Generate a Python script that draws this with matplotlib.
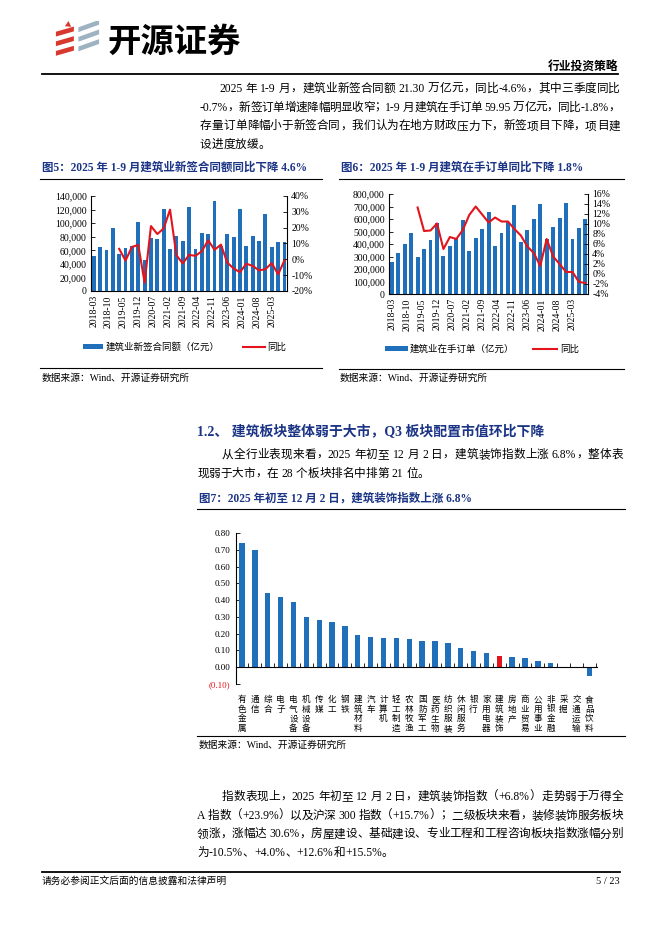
import re
import matplotlib
matplotlib.use('Agg')
import matplotlib.pyplot as plt
from matplotlib.patches import Rectangle, Polygon
from matplotlib.lines import Line2D
from matplotlib.ticker import FuncFormatter, MultipleLocator

W, H = 662, 936
SERIF = ['Liberation Serif', 'Noto Sans CJK SC']
SANS = ['Noto Sans CJK SC', 'DejaVu Sans']
NAVY = '#1b3486'
BLUE = '#1f6fba'
RED = '#e3141c'

# ---- data ----
quarters = ['2018-03', '2018-06', '2018-09', '2018-12',
            '2019-03', '2019-06', '2019-09', '2019-12',
            '2020-03', '2020-06', '2020-09', '2020-12',
            '2021-03', '2021-06', '2021-09', '2021-12',
            '2022-03', '2022-06', '2022-09', '2022-12',
            '2023-03', '2023-06', '2023-09', '2023-12',
            '2024-03', '2024-06', '2024-09', '2024-12',
            '2025-03', '2025-06', '2025-09']
date_ticks = ['2018-03', '2018-10', '2019-05', '2019-12', '2020-07', '2021-02',
              '2021-09', '2022-04', '2022-11', '2023-06', '2024-01', '2024-08', '2025-03']

# 建筑业新签合同额（亿元，单季）
new_contract = [52000, 65000, 61000, 93000,
                54000, 64000, 66000, 101000,
                46000, 78000, 77000, 121000,
                62000, 81000, 74000, 124000,
                62000, 85000, 84000, 132000,
                67000, 84000, 79000, 121000,
                66000, 81000, 73000, 113000,
                65000, 72000, 72000]
# 同比（%），自 2019-03 起
new_yoy = [6.6, -0.8, 7.8, 9.1, -14.7, 21.0, 16.0, 19.5, 31.4, 2.6, -2.6, 2.8,
           2.2, 5.1, 12.0, 6.0, 9.3, -2.0, -5.8, -8.1, -2.8, -4.1, -7.0, -6.2,
           -2.4, -9.5, -0.7]

# 建筑业在手订单（亿元）
backlog = [260000, 332000, 401000, 491000,
           295000, 364000, 433000, 566000,
           308000, 388000, 446000, 595000,
           345000, 446000, 523000, 656000,
           385000, 489000, 575000, 715000,
           415000, 515000, 600000, 723000,
           442000, 534000, 611000, 726000,
           444000, 526000, 599500]
backlog_yoy = [13.3, 8.6, 8.7, 10.1, 5.0, 7.4, 7.0, 8.8, 11.8, 13.5, 11.9, 10.3,
               11.3, 10.5, 10.5, 9.0, 7.7, 5.5, 4.2, 1.6, 7.0, 3.5, 2.0, 0.4,
               0.4, -1.6, -1.8]

sectors = ['有色金属', '通信', '综合', '电子', '电气设备', '机械设备', '传媒', '化工',
           '钢铁', '建筑材料', '汽车', '计算机', '轻工制造', '农林牧渔', '国防军工',
           '医药生物', '纺织服装', '休闲服务', '银行', '家用电器', '建筑装饰', '房地产',
           '商业贸易', '公用事业', '非银金融', '采掘', '交通运输', '食品饮料']
sector_ret = [0.738, 0.699, 0.441, 0.417, 0.391, 0.302, 0.284, 0.272, 0.244, 0.193,
              0.183, 0.177, 0.173, 0.171, 0.159, 0.157, 0.143, 0.113, 0.099, 0.087,
              0.068, 0.062, 0.054, 0.040, 0.028, 0.000, 0.004, -0.050]

para1 = ['2025 年 1-9 月，建筑业新签合同额 21.30 万亿元，同比-4.6%，其中三季度同比',
         '-0.7%，新签订单增速降幅明显收窄；1-9 月建筑在手订单 59.95 万亿元，同比-1.8%，',
         '存量订单降幅小于新签合同，我们认为在地方财政压力下，新签项目下降，项目建',
         '设进度放缓。']
para2 = ['从全行业表现来看，2025 年初至 12 月 2 日，建筑装饰指数上涨 6.8%，整体表',
         '现弱于大市，在 28 个板块排名中排第 21 位。']
para3 = ['指数表现上，2025 年初至 12 月 2 日，建筑装饰指数（+6.8%）走势弱于万得全',
         'A 指数（+23.9%）以及沪深 300 指数（+15.7%）；二级板块来看，装修装饰服务板块',
         '领涨，涨幅达 30.6%，房屋建设、基础建设、专业工程和工程咨询板块指数涨幅分别',
         '为-10.5%、+4.0%、+12.6%和+15.5%。']

# ---- figure ----
fig = plt.figure(figsize=(W / 100, H / 100), dpi=100)
renderer = fig.canvas.get_renderer()


def fx(x):
    return x / W


def fy(y):
    return 1 - y / H


def txt(x, y, s, size, family=SERIF, **kw):
    kw.setdefault('va', 'center')
    return fig.text(fx(x), fy(y), s, fontsize=size, family=family, **kw)


def hline(x0, x1, y, lw=1.0, color='black'):
    fig.add_artist(Line2D([fx(x0), fx(x1)], [fy(y), fy(y)], lw=lw, color=color,
                          transform=fig.transFigure))


def frect(x0, y0, x1, y1, color):
    fig.add_artist(Rectangle((fx(x0), fy(y1)), fx(x1) - fx(x0), fy(y0) - fy(y1),
                             color=color, transform=fig.transFigure, lw=0))


def add_ax(x0, y0, x1, y1):
    return fig.add_axes([fx(x0), fy(y1), fx(x1) - fx(x0), fy(y0) - fy(y1)])


def text_line(x0, x1, y, s, size, justify=True, color='black'):
    toks = re.findall(r'[0-9A-Za-z.%+\-/]+| |.', s)
    widths = []
    for t in toks:
        if t == ' ':
            widths.append(size * 0.25 * 100 / 72)
            continue
        tmp = fig.text(0, 0, t, fontsize=size, family=SERIF)
        widths.append(tmp.get_window_extent(renderer).width)
        tmp.remove()
    gap = 0
    if justify and len(toks) > 1:
        gap = (x1 - x0 - sum(widths)) / (len(toks) - 1)
    x = x0
    for t, w in zip(toks, widths):
        if t != ' ':
            txt(x, y, t, size, ha='left', color=color)
        x += w + gap


def paragraph(lines, y0, step, x_left=200, x_indent=219, x_right=620, size=8.4):
    for i, s in enumerate(lines):
        x0 = x_indent if i == 0 else x_left
        text_line(x0, x_right, y0 + i * step, s, size, justify=(i < len(lines) - 1))


# ---- header ----
logo = add_ax(55, 21, 100, 58)
logo.set_xlim(0, 1)
logo.set_ylim(0, 1)
logo.axis('off')
for k in range(3):
    yb = 0.06 + k * 0.26
    logo.add_patch(Polygon([(0.02, yb), (0.42, yb + 0.14), (0.42, yb + 0.27), (0.02, yb + 0.13)],
                           closed=True, color='#d8392f', lw=0))
    logo.add_patch(Polygon([(0.52, yb + 0.12), (0.98, yb + 0.32), (0.98, yb + 0.45), (0.52, yb + 0.25)],
                           closed=True, color='#9db3c2', lw=0))
logo.add_patch(Polygon([(0.22, 0.86), (0.3, 1.0), (0.36, 0.84)], closed=True, color='#d8392f', lw=0))
txt(108, 42, '开源证券', 24, family=SANS, weight='bold', ha='left')
txt(618, 66, '行业投资策略', 8.5, family=SANS, weight='bold', ha='right')
hline(42, 618, 73.5, lw=1.3)

paragraph(para1, 89, 18.7)

# ---- figure titles ----
txt(42, 168, '图5：2025 年 1-9 月建筑业新签合同额同比下降 4.6%', 8.3, weight='bold', color=NAVY, ha='left')
txt(341, 168, '图6：2025 年 1-9 月建筑在手订单同比下降 1.8%', 8.3, weight='bold', color=NAVY, ha='left')
hline(40, 322, 179, lw=0.8)
hline(339, 624, 179, lw=0.8)

months = [(int(q[:4]) - 2018) * 12 + int(q[5:]) - 3 for q in quarters]
tick_pos = [(int(q[:4]) - 2018) * 12 + int(q[5:]) - 3 for q in date_ticks]


def combo(box, bars, yoy, ymax, ystep, rlim, rstep):
    ax = add_ax(*box)
    ax.bar(months, bars, width=1.8, color=BLUE, zorder=2)
    ax.set_xlim(-1.3, 91.2)
    ax.set_ylim(0, ymax)
    ax.yaxis.set_major_locator(MultipleLocator(ystep))
    ax.yaxis.set_major_formatter(FuncFormatter(lambda v, p: f'{v:,.0f}'))
    ax.set_xticks(tick_pos)
    ax.set_xticklabels(date_ticks, rotation=90, family=SERIF, fontsize=7)
    ax.tick_params(axis='x', length=0, pad=3)
    ax.tick_params(axis='y', direction='in', length=3, width=0.6, labelsize=7, pad=3)
    for lab in ax.get_yticklabels():
        lab.set_family(SERIF)
    for sp in ['top', 'right']:
        ax.spines[sp].set_visible(False)
    ax2 = ax.twinx()
    ax2.plot(months[4:], yoy, color=RED, lw=1.5, zorder=3)
    ax2.set_ylim(*rlim)
    ax2.yaxis.set_major_locator(MultipleLocator(rstep))
    ax2.yaxis.set_major_formatter(FuncFormatter(lambda v, p: f'{v:.0f}%'))
    ax2.tick_params(axis='y', direction='in', length=3, width=0.6, labelsize=7, pad=3)
    for lab in ax2.get_yticklabels():
        lab.set_family(SERIF)
    for sp in ['top', 'left', 'bottom']:
        ax2.spines[sp].set_visible(False)
    for a in (ax, ax2):
        for sp in a.spines.values():
            sp.set_linewidth(0.8)
    return ax


combo((91, 196, 287, 291), new_contract, new_yoy, 140000, 20000, (-20, 40), 10)
combo((389, 194, 588, 294), backlog, backlog_yoy, 800000, 100000, (-4, 16), 2)

# legends
frect(83, 344, 103, 349, BLUE)
txt(106, 347, '建筑业新签合同额（亿元）', 6.8, ha='left')
hline(243, 265, 347, lw=1.5, color=RED)
txt(267, 347, '同比', 6.8, ha='left')
frect(385, 346, 408, 351, BLUE)
txt(410, 349, '建筑业在手订单（亿元）', 6.8, ha='left')
hline(533, 557, 349, lw=1.5, color=RED)
txt(560, 349, '同比', 6.8, ha='left')

hline(40, 322, 368.5, lw=0.8)
hline(339, 624, 369.5, lw=0.8)
txt(42, 378, '数据来源：Wind、开源证券研究所', 7, ha='left')
txt(340, 378, '数据来源：Wind、开源证券研究所', 7, ha='left')

# ---- section 1.2 ----
txt(197, 431, '1.2、 建筑板块整体弱于大市，Q3 板块配置市值环比下降', 10, weight='bold', color=NAVY, ha='left')
paragraph(para2, 455, 18.7, x_left=197, x_indent=222, x_right=623)
txt(199, 499, '图7：2025 年初至 12 月 2 日，建筑装饰指数上涨 6.8%', 8.3, weight='bold', color=NAVY, ha='left')
hline(197, 625, 509, lw=0.8)

ax7 = add_ax(236, 533, 597, 684)
colors = [RED if s == '建筑装饰' else BLUE for s in sectors]
ax7.bar(range(len(sectors)), sector_ret, width=0.42, color=colors, zorder=2)
ax7.set_xlim(-0.47, 27.6)
ax7.set_ylim(-0.10, 0.80)
ax7.yaxis.set_major_locator(MultipleLocator(0.10))
ax7.yaxis.set_major_formatter(FuncFormatter(lambda v, p: f'({abs(v):.2f})' if v < -1e-9 else f'{v:.2f}'))
ax7.tick_params(axis='y', direction='in', length=3, width=0.6, labelsize=6.5, pad=4)
for lab in ax7.get_yticklabels():
    lab.set_family(SERIF)
    if lab.get_text().startswith('('):
        lab.set_color(RED)
ax7.spines['bottom'].set_position(('data', 0))
for sp in ['top', 'right']:
    ax7.spines[sp].set_visible(False)
for sp in ax7.spines.values():
    sp.set_linewidth(0.8)
ax7.set_xticks(range(len(sectors)))
ax7.set_xticklabels(['\n'.join(s) for s in sectors], family=SANS, fontsize=6.2, linespacing=1.1, va='top')
ax7.set_xticks([i + 0.5 for i in range(len(sectors))], minor=True)
ax7.tick_params(axis='x', which='major', length=0, pad=20)
ax7.tick_params(axis='x', which='minor', direction='in', length=3, width=0.6)

hline(197, 625, 736, lw=0.8)
txt(199, 745, '数据来源：Wind、开源证券研究所', 7, ha='left')

paragraph(para3, 797, 18.7, x_left=197, x_indent=222, x_right=623)

# ---- footer ----
hline(42, 620, 871.5, lw=1.3)
txt(42, 881, '请务必参阅正文后面的信息披露和法律声明', 7, ha='left')
txt(620, 881, '5 / 23', 7.5, ha='right')

fig.savefig('out.png', dpi=100)
